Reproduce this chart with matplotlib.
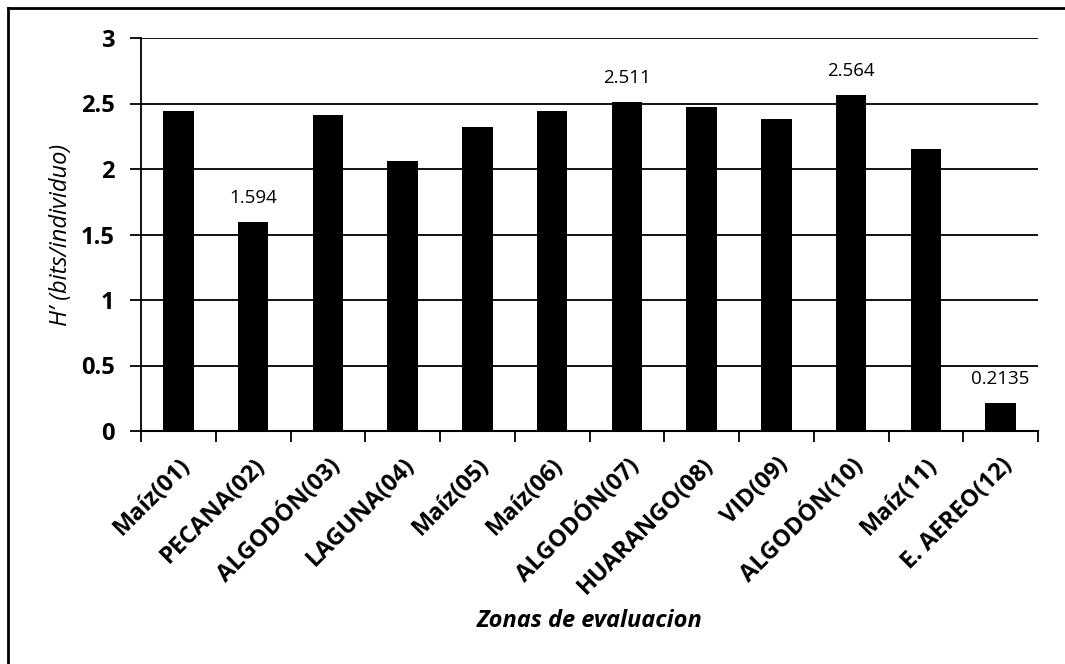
import numpy as np
import matplotlib.pyplot as plt
from matplotlib.lines import Line2D

zonas = ['Maíz(01)', 'PECANA(02)', 'ALGODÓN(03)', 'LAGUNA(04)', 'Maíz(05)', 'Maíz(06)',
         'ALGODÓN(07)', 'HUARANGO(08)', 'VID(09)', 'ALGODÓN(10)', 'Maíz(11)', 'E. AEREO(12)']
valores = [2.443, 1.594, 2.41, 2.06, 2.32, 2.44, 2.511, 2.47, 2.38, 2.564, 2.155, 0.2135]
etiquetas = {1: '1.594', 6: '2.511', 9: '2.564', 11: '0.2135'}
yticks = [0, 0.5, 1, 1.5, 2, 2.5, 3]

plt.rcParams['font.family'] = ['Open Sans', 'DejaVu Sans']

fig = plt.figure(figsize=(10.65, 6.64), dpi=100)
ax = fig.add_axes([141 / 1065, 1 - 431 / 664, (1038 - 141) / 1065, (431 - 38) / 664])

x = np.arange(len(zonas))
ax.bar(x, valores, width=0.41, color='black', zorder=3)

# valores anotados sobre algunas barras
for i, txt in etiquetas.items():
    ax.annotate(txt, (x[i], valores[i]), xytext=(0, 11), textcoords='offset points',
                ha='center', va='bottom', fontsize=13.5)

ax.set_xlim(-0.5, len(zonas) - 0.5)
ax.set_ylim(0, 3)
ax.set_yticks(yticks)
ax.set_yticklabels([('%g' % v) for v in yticks], fontsize=17, fontweight='bold')
ax.yaxis.grid(True, color='black', linewidth=1.3, zorder=0)
ax.tick_params(axis='y', length=8, width=1.3, color='black', pad=11)

ax.set_xticks(x)
ax.set_xticklabels(zonas, rotation=45, ha='right', rotation_mode='anchor',
                   fontsize=17, fontweight='bold')
ax.set_xticks(np.arange(-0.5, len(zonas), 1), minor=True)
ax.tick_params(axis='x', which='major', length=0, pad=16)
ax.tick_params(axis='x', which='minor', length=8, width=1.3, color='black')

for s in ['top', 'right']:
    ax.spines[s].set_visible(False)
ax.spines['left'].set_linewidth(1.3)
ax.spines['bottom'].set_linewidth(1.5)

fig.text(61 / 1065, 1 - 235 / 664, 'H’ (bits/individuo)', fontsize=17, fontstyle='italic',
         rotation=90, ha='center', va='center')
fig.text(590 / 1065, 1 - 621 / 664, 'Zonas de evaluacion', fontsize=17,
         fontweight='bold', fontstyle='italic', ha='center', va='center')

# marco exterior (solo izquierda y arriba visibles)
fx = 8 / 1065
fy = 1 - 8 / 664
fig.add_artist(Line2D([fx, fx], [0, fy], transform=fig.transFigure, color='black', linewidth=2))
fig.add_artist(Line2D([fx, 1], [fy, fy], transform=fig.transFigure, color='black', linewidth=2))

fig.savefig('out.png', dpi=100)
